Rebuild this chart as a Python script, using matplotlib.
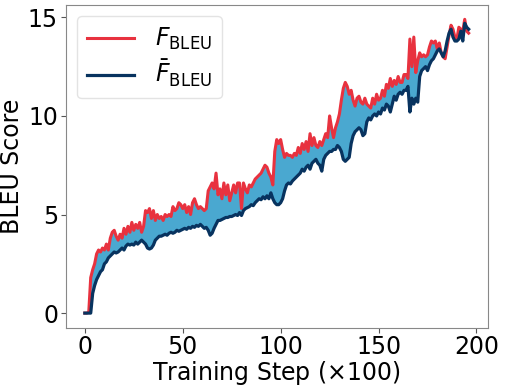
import numpy as np
import matplotlib
matplotlib.use("Agg")
import matplotlib.pyplot as plt

# F_BLEU (upper, red) and F-bar_BLEU (lower, navy)
f_bleu = [0.0, 0.0, 0.05, 1.8, 2.2, 2.5, 3.0, 3.2, 3.1, 3.3,
          3.2, 3.5, 3.2, 3.8, 4.1, 4.2, 3.9, 3.7, 4.0, 3.8,
          4.3, 4.0, 4.4, 4.1, 4.6, 4.2, 4.5, 4.3, 4.6, 4.1,
          4.4, 5.2, 5.1, 5.3, 4.8, 5.2, 4.7, 5.0, 4.8, 4.9,
          4.7, 5.0, 4.9, 5.0, 4.9, 5.4, 5.2, 5.3, 5.6, 5.5,
          5.3, 5.5, 5.1, 5.4, 5.0, 5.6, 5.8, 5.5, 5.3, 5.4,
          5.3, 5.2, 5.3, 6.2, 6.4, 6.6, 6.3, 7.1, 6.0, 6.3,
          5.8, 6.6, 6.0, 6.5, 5.7, 6.1, 6.5, 6.1, 6.6, 6.6,
          5.3, 6.6, 6.3, 6.1, 6.5, 6.4, 6.6, 6.8, 6.9, 7.0,
          7.1, 7.3, 7.5, 7.4, 7.1, 6.9, 6.5, 8.2, 8.8, 8.6,
          8.8, 8.3, 7.9, 8.1, 8.0, 8.0, 7.9, 8.1, 8.0, 8.4,
          8.1, 8.6, 8.3, 8.7, 8.2, 9.1, 8.5, 8.9, 8.5, 8.4,
          8.7, 8.5, 8.8, 9.1, 8.9, 10.0, 9.4, 8.9, 9.4, 9.7,
          10.1, 10.8, 11.4, 11.7, 11.5, 11.1, 11.3, 10.8, 10.5, 10.9,
          11.0, 10.7, 10.6, 10.9, 10.6, 10.5, 10.4, 10.9, 10.6, 11.1,
          10.8, 10.9, 11.3, 11.0, 11.6, 11.4, 11.9, 11.5, 11.8, 11.6,
          12.0, 11.7, 11.7, 12.1, 12.1, 11.9, 13.9, 12.5, 14.0, 12.2,
          12.8, 13.2, 13.0, 13.1, 13.0, 13.1, 13.5, 13.8, 13.7, 13.8,
          13.4, 13.7, 13.2, 13.0, 12.9, 13.5, 14.1, 14.6, 14.4, 14.0,
          13.9, 14.5, 14.4, 14.3, 14.9, 14.3, 14.2]
f_bar_bleu = [0.0, 0.0, 0.0, 0.0, 1.0, 1.4, 1.7, 1.9, 2.1, 2.2,
              2.5, 2.6, 2.8, 2.9, 3.0, 3.1, 3.05, 3.1, 3.2, 3.3,
              3.2, 3.4, 3.5, 3.45, 3.5, 3.45, 3.6, 3.5, 3.6, 3.7,
              3.6, 3.5, 3.3, 3.25, 3.3, 3.45, 3.7, 3.8, 3.9, 3.9,
              3.95, 4.0, 3.95, 4.05, 4.1, 4.05, 4.1, 4.2, 4.15, 4.2,
              4.25, 4.3, 4.25, 4.35, 4.3, 4.4, 4.35, 4.45, 4.4, 4.5,
              4.4, 4.3, 4.35, 4.2, 3.95, 4.05, 4.3, 4.5, 4.7, 4.7,
              4.75, 4.8, 4.85, 4.85, 4.9, 4.9, 4.95, 5.0, 4.95, 5.1,
              4.95, 5.2, 5.3, 5.35, 5.4, 5.5, 5.45, 5.6, 5.7, 5.8,
              5.75, 5.9, 5.8, 5.95, 5.8, 6.1, 5.8, 5.6, 5.5, 5.5,
              5.6, 5.8, 6.2, 6.5, 6.6, 6.55, 6.7, 6.8, 6.9, 7.0,
              7.1, 7.3, 7.2, 7.4, 7.5, 7.3, 7.6, 7.7, 7.8, 7.6,
              7.5, 7.2, 7.8, 8.0, 8.1, 8.2, 8.2, 8.3, 8.3, 8.5,
              8.4, 8.2, 7.8, 7.7, 7.8, 7.9, 8.6, 9.0, 9.2, 9.3,
              9.4, 9.3, 9.0, 9.1, 9.7, 9.9, 9.8, 10.0, 10.1, 10.0,
              10.2, 10.1, 10.4, 10.3, 10.6, 10.5, 10.2, 10.6, 11.0, 10.8,
              11.1, 11.2, 11.1, 11.3, 11.3, 11.5, 10.2, 10.9, 10.6, 10.9,
              10.7, 12.0, 12.3, 12.4, 12.5, 12.3, 12.6, 12.8, 12.9, 13.1,
              13.3, 13.4, 13.2, 13.0, 13.3, 13.8, 14.2, 14.4, 14.0, 13.8,
              13.8, 13.9, 14.3, 13.8, 14.7, 14.5, 14.4]
steps = np.arange(len(f_bleu))

red = '#e8323f'
navy = '#08335f'
fill = '#4aa8d0'
fs = 17

fig = plt.figure(figsize=(5.05, 3.87), dpi=100)
ax = fig.add_axes([0.130, 0.153, 0.836, 0.835])

ax.fill_between(steps, f_bar_bleu, f_bleu, color=fill, linewidth=0)
ax.plot(steps, f_bleu, color=red, lw=2.2, label=r'$F_{\mathrm{BLEU}}$')
ax.plot(steps, f_bar_bleu, color=navy, lw=2.3, label=r'$\bar{F}_{\mathrm{BLEU}}$')

ax.set_xticks([0, 50, 100, 150, 200])
ax.set_yticks([0, 5, 10, 15])
ax.tick_params(labelsize=fs, color='#555555', pad=2)
for s in ax.spines.values():
    s.set_color('#888888')

ax.set_xlabel(r'Training Step ($\times$100)', fontsize=fs, labelpad=0)
ax.set_ylabel('BLEU Score', fontsize=fs, labelpad=3)

ax.legend(loc='upper left', fontsize=fs, handlelength=2.0, handletextpad=0.9,
          labelspacing=0.25, framealpha=0.8, edgecolor='#dddddd')

fig.savefig('out.png', dpi=100)
